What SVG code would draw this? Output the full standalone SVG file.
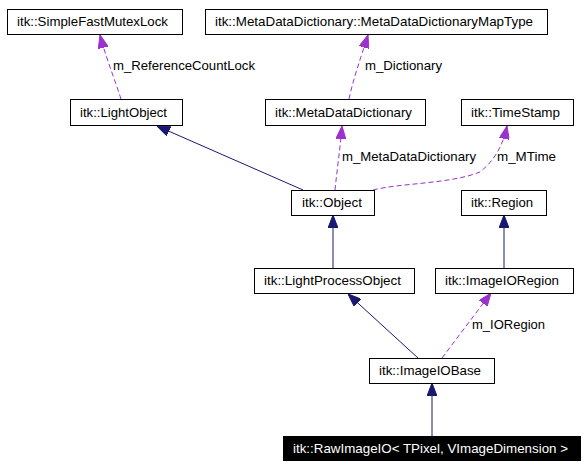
<svg xmlns="http://www.w3.org/2000/svg" width="588" height="468" viewBox="0 0 588 468">
<style>
.box{fill:#fff;stroke:#000;stroke-width:1}
.t{font-family:"Liberation Sans",Arial,sans-serif;font-size:13px;fill:#000}
.inh{fill:none;stroke:#191970;stroke-width:1}
.use{fill:none;stroke:#9a32cd;stroke-width:1;stroke-dasharray:5,3}
</style>
<defs>
<marker id="an" markerUnits="userSpaceOnUse" markerWidth="13" markerHeight="10" refX="13" refY="5" orient="auto"><path d="M0,0 L13,5 L0,10 z" fill="#191970" stroke="#191970"/></marker>
<marker id="ap" markerUnits="userSpaceOnUse" markerWidth="13" markerHeight="10" refX="13" refY="5" orient="auto"><path d="M0,0 L13,5 L0,10 z" fill="#9a32cd" stroke="#9a32cd"/></marker>
</defs>
<rect width="588" height="468" fill="#fff"/>
<g id="connectors">
<path class="inh" d="M303,190 L157,126" marker-end="url(#an)"/>
<path class="use" d="M335,190 C337,170 340,150 342,126" marker-end="url(#ap)"/>
<path class="use" d="M373,190 C400,183 450,184 480,172 C495,160 503,145 507,126" marker-end="url(#ap)"/>
<path class="use" d="M349,99 C353,80 360,60 368,35" marker-end="url(#ap)"/>
<path class="use" d="M121,99 C115,80 105,55 100,35" marker-end="url(#ap)"/>
<path class="inh" d="M333,268 L333,215" marker-end="url(#an)"/>
<path class="inh" d="M504,268 L504,215" marker-end="url(#an)"/>
<path class="inh" d="M418,358 L348,294" marker-end="url(#an)"/>
<path class="use" d="M442,358 L491,293" marker-end="url(#ap)"/>
<path class="inh" d="M432,436 L432,383" marker-end="url(#an)"/>
<text class="t" x="113" y="70" textLength="142" lengthAdjust="spacingAndGlyphs">m_ReferenceCountLock</text>
<text class="t" x="365" y="70" textLength="77" lengthAdjust="spacingAndGlyphs">m_Dictionary</text>
<text class="t" x="342" y="161" textLength="134" lengthAdjust="spacingAndGlyphs">m_MetaDataDictionary</text>
<text class="t" x="497" y="161" textLength="59" lengthAdjust="spacingAndGlyphs">m_MTime</text>
<text class="t" x="472" y="329" textLength="73" lengthAdjust="spacingAndGlyphs">m_IORegion</text>
</g>
<g id="SimpleFastMutexLock"><rect class="box" x="7.5" y="9.5" width="175" height="25"/><text class="t" x="17" y="26" textLength="151" lengthAdjust="spacingAndGlyphs">itk::SimpleFastMutexLock</text></g>
<g id="MetaDataDictionaryMapType"><rect class="box" x="205.5" y="9.5" width="342" height="25"/><text class="t" x="215" y="26" textLength="318" lengthAdjust="spacingAndGlyphs">itk::MetaDataDictionary::MetaDataDictionaryMapType</text></g>
<g id="LightObject"><rect class="box" x="70.5" y="99.5" width="112" height="26"/><text class="t" x="80" y="117" textLength="87" lengthAdjust="spacingAndGlyphs">itk::LightObject</text></g>
<g id="MetaDataDictionary"><rect class="box" x="265.5" y="99.5" width="160" height="26"/><text class="t" x="275" y="117" textLength="137" lengthAdjust="spacingAndGlyphs">itk::MetaDataDictionary</text></g>
<g id="TimeStamp"><rect class="box" x="461.5" y="99.5" width="112" height="26"/><text class="t" x="471" y="117" textLength="89" lengthAdjust="spacingAndGlyphs">itk::TimeStamp</text></g>
<g id="Object"><rect class="box" x="291.5" y="190.5" width="83" height="25"/><text class="t" x="302" y="207" textLength="60" lengthAdjust="spacingAndGlyphs">itk::Object</text></g>
<g id="Region"><rect class="box" x="461.5" y="190.5" width="85" height="25"/><text class="t" x="471" y="207" textLength="62" lengthAdjust="spacingAndGlyphs">itk::Region</text></g>
<g id="LightProcessObject"><rect class="box" x="254.5" y="268.5" width="160" height="25"/><text class="t" x="264" y="285" textLength="137" lengthAdjust="spacingAndGlyphs">itk::LightProcessObject</text></g>
<g id="ImageIORegion"><rect class="box" x="435.5" y="268.5" width="138" height="25"/><text class="t" x="445" y="285" textLength="114" lengthAdjust="spacingAndGlyphs">itk::ImageIORegion</text></g>
<g id="ImageIOBase"><rect class="box" x="369.5" y="358.5" width="125" height="25"/><text class="t" x="379" y="375" textLength="102" lengthAdjust="spacingAndGlyphs">itk::ImageIOBase</text></g>
<g id="RawImageIO"><rect x="283" y="436" width="298" height="25" fill="#000"/><text class="t" x="293" y="453" textLength="275" lengthAdjust="spacingAndGlyphs" style="fill:#fff">itk::RawImageIO&lt; TPixel, VImageDimension &gt;</text></g>
</svg>
